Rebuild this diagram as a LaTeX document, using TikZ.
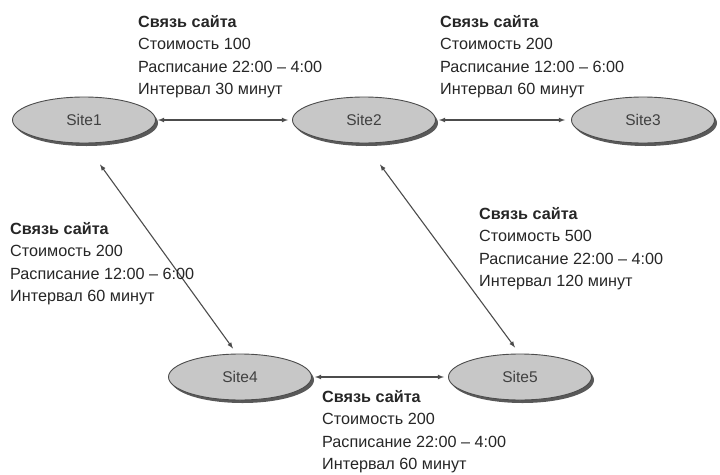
\documentclass[tikz,border=0pt]{standalone}
\usepackage{fontspec}
\setmainfont{Liberation Sans}
\usetikzlibrary{shapes.geometric,shadows}
\tikzset{>=latex}
\tikzset{
  site/.style={ellipse, draw=black!70, line width=0.9pt, fill=black!22,
    minimum width=143pt, minimum height=46pt, inner sep=0pt, text=black!75,
    font=\fontsize{15.5}{18}\selectfont,
    drop shadow={shadow xshift=2.5pt, shadow yshift=-3pt, fill=black!65, opacity=1}},
  info/.style={anchor=north west, align=left, inner sep=0pt, text=black!85,
    font=\fontsize{16.2}{22.5}\selectfont},
  link/.style={<->, draw=black!70, line width=1.1pt}
}

\begin{document}
\begin{tikzpicture}[x=1pt,y=-1pt]
                \useasboundingbox (0,0) rectangle (720,474);

                % Draw the sites as shaded ellipses
                \node[site] (Site1) at (84,120) {Site1};
                \node[site] (Site2) at (364,120) {Site2};
                \node[site] (Site3) at (643,120) {Site3};
                \node[site] (Site4) at (240,377) {Site4};
                \node[site] (Site5) at (520,377) {Site5};

                % Draw the site links
                \draw[link, shorten <=2pt, shorten >=4pt] (Site1) -- (Site2);
                \draw[link, shorten <=3pt, shorten >=6pt] (Site2) -- (Site3);
                \draw[link, shorten <=3pt, shorten >=4pt] (Site4) -- (Site5);
                \draw[link] ([xshift=16pt,yshift=-21pt]Site1.south) -- ([xshift=-7pt,yshift=5pt]Site4.north);
                \draw[link] ([xshift=16pt,yshift=-21pt]Site2.south) -- ([xshift=-5pt,yshift=6pt]Site5.north);

                % Draw the labels of the links
                \node[info] (link12) at (138,15) {\textbf{Связь сайта}\\Стоимость 100\\Расписание 22:00 – 4:00\\Интервал 30 минут};
                \node[info] (link23) at (440,15) {\textbf{Связь сайта}\\Стоимость 200\\Расписание 12:00 – 6:00\\Интервал 60 минут};
                \node[info] (link14) at (10,222) {\textbf{Связь сайта}\\Стоимость 200\\Расписание 12:00 – 6:00\\Интервал 60 минут};
                \node[info] (link25) at (479,207) {\textbf{Связь сайта}\\Стоимость 500\\Расписание 22:00 – 4:00\\Интервал 120 минут};
                \node[info] (link45) at (322,390) {\textbf{Связь сайта}\\Стоимость 200\\Расписание 22:00 – 4:00\\Интервал 60 минут};
            \end{tikzpicture}
\end{document}
